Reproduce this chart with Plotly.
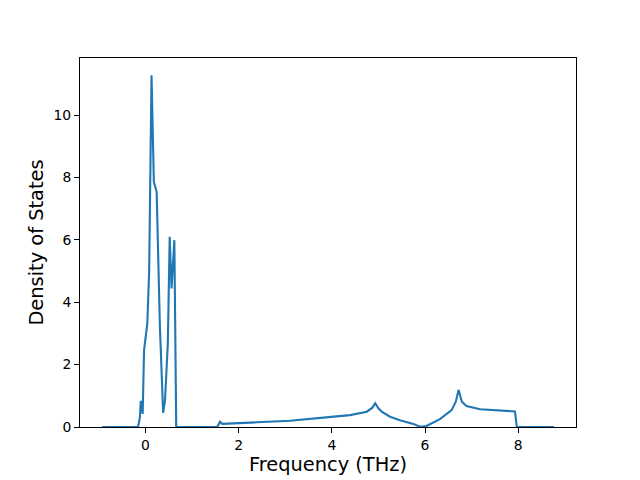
import plotly.graph_objects as go

freq = [-0.93, -0.16, -0.12, -0.10, -0.06, -0.03, 0.04, 0.08, 0.13, 0.18, 0.24,
        0.31, 0.38, 0.42, 0.48, 0.52, 0.56, 0.62, 0.66, 1.54, 1.60, 1.65,
        2.39, 3.10, 3.82, 4.39, 4.75, 4.87, 4.93, 5.00, 5.07, 5.25, 5.46,
        5.75, 5.89, 6.03, 6.32, 6.57, 6.66, 6.72, 6.79, 6.89, 7.18, 7.54,
        7.79, 7.82, 7.93, 7.97, 8.77]
dos = [0.0, 0.0, 0.3, 0.84, 0.42, 2.47, 3.32, 5.03, 11.28, 7.86, 7.54,
       3.2, 0.45, 0.86, 2.69, 6.1, 4.44, 5.99, 0.0, 0.0, 0.17, 0.10,
       0.15, 0.2, 0.3, 0.38, 0.49, 0.62, 0.76, 0.6, 0.49, 0.33, 0.22,
       0.1, 0.01, 0.03, 0.25, 0.54, 0.81, 1.19, 0.81, 0.67, 0.57, 0.54,
       0.52, 0.5, 0.5, 0.0, 0.0]

xticks = [0, 2, 4, 6, 8]
yticks = [0, 2, 4, 6, 8, 10]

fig = go.Figure(go.Scatter(x=freq, y=dos, mode="lines",
                           line=dict(color="#1f77b4", width=2.1)))

axis_common = dict(showline=True, mirror=True, linecolor="black", linewidth=1,
                   ticks="outside", ticklen=5, tickwidth=1, tickcolor="black",
                   showgrid=False, zeroline=False, automargin=False,
                   tickfont=dict(family="DejaVu Sans", size=13.9, color="black"))

# the page body adds an 8px offset, so the figure is 632x472
fig.update_layout(
    width=632, height=472,
    margin=dict(l=72, r=64, t=50, b=53),
    paper_bgcolor="white", plot_bgcolor="white",
    showlegend=False,
    xaxis=dict(range=[-1.405, 9.24], tickvals=xticks,
               title=dict(text="Frequency (THz)", standoff=5,
                          font=dict(family="DejaVu Sans", size=19.4, color="black")),
               **axis_common),
    yaxis=dict(range=[0, 11.83], tickvals=yticks,
               title=dict(text="Density of States", standoff=4,
                          font=dict(family="DejaVu Sans", size=19.4, color="black")),
               **axis_common),
)

fig.write_html("out.html")
